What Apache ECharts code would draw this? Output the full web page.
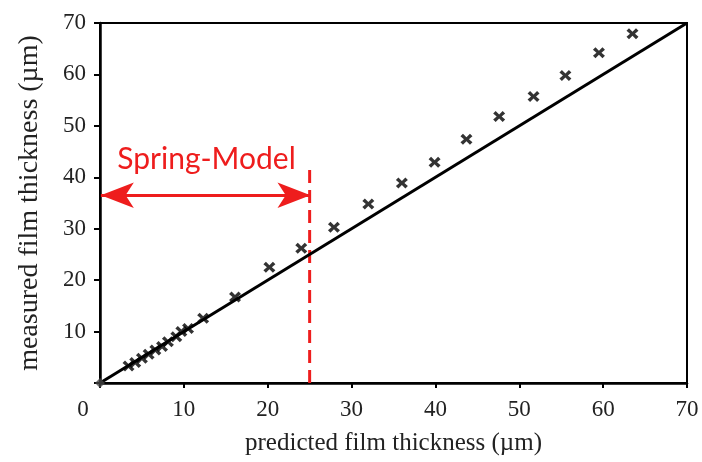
<!DOCTYPE html>
<html>
<head>
<meta charset="utf-8">
<script src="https://cdn.jsdelivr.net/npm/echarts@6/dist/echarts.min.js"></script>
<style>
  html, body { margin: 0; padding: 0; background: #fff; }
  #chart { width: 702px; height: 462px; }
</style>
</head>
<body>
<div id="chart"></div>
<script>
// predicted vs. measured film thickness (µm)
const predicted = [3.4, 4.2, 5.0, 5.8, 6.6, 7.4, 8.1, 9.1, 9.7, 10.5, 12.3, 16.1, 20.2, 24.0,
                   27.9, 32.0, 36.0, 39.9, 43.7, 47.6, 51.7, 55.5, 59.5, 63.5];
const measured  = [3.3, 4.0, 4.8, 5.6, 6.4, 7.1, 8.0, 9.0, 10.0, 10.6, 12.6, 16.7, 22.5, 26.2,
                   30.3, 34.8, 38.9, 42.9, 47.4, 51.8, 55.7, 59.8, 64.2, 67.9];
const identityLine = [[0, 0], [70, 70]];
const origin = [[0, 0]];
const axisTicks = [0, 10, 20, 30, 40, 50, 60, 70];

// Spring-Model validity range annotation
const springLimit = 25;
const springLineTop = 41.4;
const springArrowY = 36.5;
const springArrowRange = [0.1, 25.1];
const springLabel = 'Spring-Model';
const springLabelPos = [12.7, 43.4];

const RED = '#ee1d1d';
const serif = '"Liberation Serif", "DejaVu Serif", serif';

// bold "x" marker outline
const crossPath = 'path://M0,2.5 L2.5,0 L6,3.5 L9.5,0 L12,2.5 L8.5,5.5 L12,8.5 L9.5,11 L6,7.5 L2.5,11 L0,8.5 L3.5,5.5 Z';

const chart = echarts.init(document.getElementById('chart'));
chart.setOption({
  backgroundColor: '#fff',
  animation: false,
  grid: {
    left: 100, right: 15, top: 23, bottom: 79,
    show: true, borderColor: '#000', borderWidth: 2
  },
  xAxis: {
    type: 'value', min: axisTicks[0], max: axisTicks[axisTicks.length - 1], interval: 10,
    name: 'predicted film thickness (µm)', nameLocation: 'middle', nameGap: 48,
    nameTextStyle: { fontFamily: serif, fontSize: 25, color: '#222' },
    axisLine: { lineStyle: { color: '#000', width: 2.5 } },
    axisTick: { inside: false, length: 5, lineStyle: { color: '#000', width: 2 } },
    axisLabel: {
      fontFamily: serif, fontSize: 23, color: '#222', margin: 15,
      formatter: v => v === 0 ? '{z|0}' : String(v),
      rich: { z: { fontFamily: serif, fontSize: 23, color: '#222', padding: [0, 34, 0, 0] } }
    },
    splitLine: { show: false }
  },
  yAxis: {
    type: 'value', min: axisTicks[0], max: axisTicks[axisTicks.length - 1], interval: 10,
    name: 'measured film thickness (µm)', nameLocation: 'middle', nameGap: 56,
    nameTextStyle: { fontFamily: serif, fontSize: 28, color: '#222' },
    axisLine: { lineStyle: { color: '#000', width: 2.5 } },
    axisTick: { inside: false, length: 6, lineStyle: { color: '#000', width: 2 } },
    axisLabel: {
      fontFamily: serif, fontSize: 23, color: '#222', margin: 14,
      formatter: v => v === 0 ? '' : String(v)
    },
    splitLine: { show: false }
  },
  series: [
    {
      type: 'line',
      data: identityLine,
      showSymbol: false,
      lineStyle: { color: '#000', width: 3 },
      z: 3,
      markLine: {
        silent: true,
        symbol: ['arrow', 'arrow'],
        symbolSize: [19, 33],
        label: { show: false },
        lineStyle: { color: RED, width: 3, type: 'solid' },
        data: [[
          { coord: [springArrowRange[0], springArrowY] },
          { coord: [springArrowRange[1], springArrowY] }
        ]]
      },
      markPoint: {
        silent: true,
        symbol: 'circle', symbolSize: 0,
        label: {
          show: true, position: 'inside', formatter: springLabel,
          fontFamily: 'Lato, "Open Sans", sans-serif', fontSize: 30, color: RED
        },
        data: [{ coord: springLabelPos }]
      }
    },
    {
      type: 'line',
      data: [[springLimit, springLineTop], [springLimit, 0]],
      showSymbol: false,
      lineStyle: { color: RED, width: 3, type: [13, 7] },
      z: 2
    },
    {
      type: 'scatter',
      data: predicted.map((x, i) => [x, measured[i]]),
      symbol: crossPath,
      symbolSize: [12, 11],
      itemStyle: { color: '#000' },
      z: 5
    },
    {
      type: 'scatter',
      data: origin,
      symbol: 'diamond',
      symbolSize: 10,
      itemStyle: { color: '#444' },
      z: 6
    }
  ]
});
</script>
</body>
</html>
